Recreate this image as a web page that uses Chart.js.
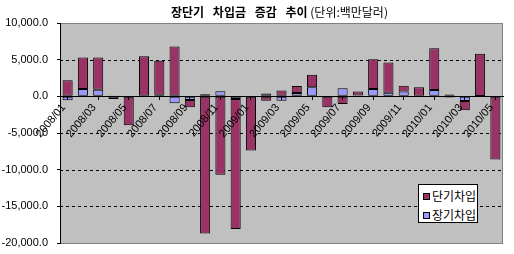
<!DOCTYPE html>
<html>
<head>
<meta charset="utf-8">
<script src="https://cdn.jsdelivr.net/npm/chart.js@4.4.0/dist/chart.umd.min.js"></script>
<style>
body { margin: 0; background: #fff; }
#cadre { position: relative; width: 514px; height: 254px; }
#myChart { position: absolute; left: 0; top: 0; }
#titre { position: absolute; left: 171px; top: 3px; white-space: nowrap; font-family: "Noto Sans CJK KR"; font-size: 12px; color: #000; }
#titre b { word-spacing: 6px; }
#titre span { font-weight: normal; }
#legende { position: absolute; left: 418px; top: 184px; width: 58px; height: 37px; background: #fff; border: 1px solid #000; font-family: "Noto Sans CJK KR"; font-size: 12px; }
.item { position: absolute; left: 4px; height: 14px; line-height: 14px; white-space: nowrap; }
.item i { display: inline-block; width: 5px; height: 5px; border: 1px solid #000; margin-right: 2px; vertical-align: 1px; }
</style>
</head>
<body>
<div id="cadre">
  <canvas id="myChart" width="514" height="254"></canvas>
  <div id="titre"><b>장단기 차입금 증감 추이</b> <span>(단위:백만달러)</span></div>
  <div id="legende">
    <div class="item" style="top:4px"><i style="background:#993366"></i>단기차입</div>
    <div class="item" style="top:23px"><i style="background:#9999ff"></i>장기차입</div>
  </div>
</div>
<script>
var mois = ['2008/01','2008/02','2008/03','2008/04','2008/05','2008/06','2008/07','2008/08','2008/09','2008/10',
            '2008/11','2008/12','2009/01','2009/02','2009/03','2009/04','2009/05','2009/06','2009/07','2009/08',
            '2009/09','2009/10','2009/11','2009/12','2010/01','2010/02','2010/03','2010/04','2010/05'];

// 단기차입
var court = [2200, 4300, 4400, 100, -3900, 5450, 4650, 6800, -1000, -18700,
             -10700, -17750, -7400, -600, 800, 950, 1700, -1500, -1050, 550,
             4050, 4100, 800, 1250, 5700, -150, -1250, 5750, -8600];

// 장기차입
var longTerme = [-550, 1000, 900, -350, -50, -100, 200, -950, -500, 300,
                 700, -350, 0, 400, -600, 450, 1250, 0, 1100, 100,
                 1000, 500, 650, -100, 850, 250, -650, 50, 0];

var yMin = -20000;
var yMax = 10000;
var yPas = 5000;

var police = { family: 'Liberation Sans', size: 11 };

// fond gris + lignes pointillées, dessinés juste avant les barres
var fondPlugin = {
  id: 'fondGris',
  beforeDatasetsDraw: function(chart) {
    var c = chart.ctx;
    var a = chart.chartArea;
    var echelle = chart.scales.y;
    c.save();
    c.fillStyle = '#c0c0c0';
    c.fillRect(a.left, a.top, a.right - a.left, a.bottom - a.top);
    c.strokeStyle = '#808080';
    c.lineWidth = 1;
    c.strokeRect(a.left + 0.5, a.top + 0.5, a.right - a.left - 1, a.bottom - a.top);
    c.strokeStyle = '#000';
    c.setLineDash([3, 3]);
    for (var i = 0; i < echelle.ticks.length; i++) {
      var v = echelle.ticks[i].value;
      if (v === yMin || v === yMax || v === 0) continue;
      var py = Math.round(echelle.getPixelForValue(v)) + 0.5;
      c.beginPath();
      c.moveTo(a.left, py);
      c.lineTo(a.right, py);
      c.stroke();
    }
    c.restore();
  }
};

function formatNombre(v) {
  return v.toLocaleString('en-US', { minimumFractionDigits: 1, maximumFractionDigits: 1 });
}

var el = document.getElementById('myChart');
new Chart(el, {
  type: 'bar',
  data: {
    labels: mois,
    datasets: [{
      label: '장기차입',
      data: longTerme,
      backgroundColor: '#9999ff',
      borderColor: '#000',
      borderWidth: 1,
      borderSkipped: false
    }, {
      label: '단기차입',
      data: court,
      backgroundColor: '#993366',
      borderColor: '#000',
      borderWidth: 1,
      borderSkipped: false
    }]
  },
  options: {
    responsive: false,
    animation: false,
    devicePixelRatio: 1,
    barPercentage: 0.66,
    categoryPercentage: 1,
    layout: { padding: { top: 23, right: 11, bottom: 11, left: 0 } },
    plugins: { legend: { display: false }, tooltip: { enabled: false } },
    scales: {
      x: {
        stacked: true,
        position: { y: 0 },
        offset: true,
        grid: {
          drawOnChartArea: false,
          offset: false,
          tickLength: 3,
          z: 1,
          tickColor: function(c) { return c.index % 2 === 0 ? '#000' : 'rgba(0,0,0,0)'; }
        },
        border: { display: true, color: '#000', z: 1 },
        ticks: {
          autoSkip: false,
          minRotation: 50,
          maxRotation: 50,
          padding: 2,
          labelOffset: -4,
          z: 1,
          color: '#000',
          font: police,
          callback: function(v, i) { return i % 2 === 0 ? this.getLabelForValue(v) : ''; }
        }
      },
      y: {
        stacked: true,
        min: yMin,
        max: yMax,
        grid: { drawOnChartArea: false, color: '#000', tickLength: 3 },
        border: { display: true, color: '#000', z: 1 },
        ticks: {
          stepSize: yPas,
          padding: 9,
          color: '#000',
          font: police,
          callback: function(v) { return formatNombre(v); }
        },
        afterFit: function(s) {
          s.width = 60;
          s.paddingTop = 0;
          s.paddingBottom = 0;
        }
      }
    }
  },
  plugins: [fondPlugin]
});
</script>
</body>
</html>
